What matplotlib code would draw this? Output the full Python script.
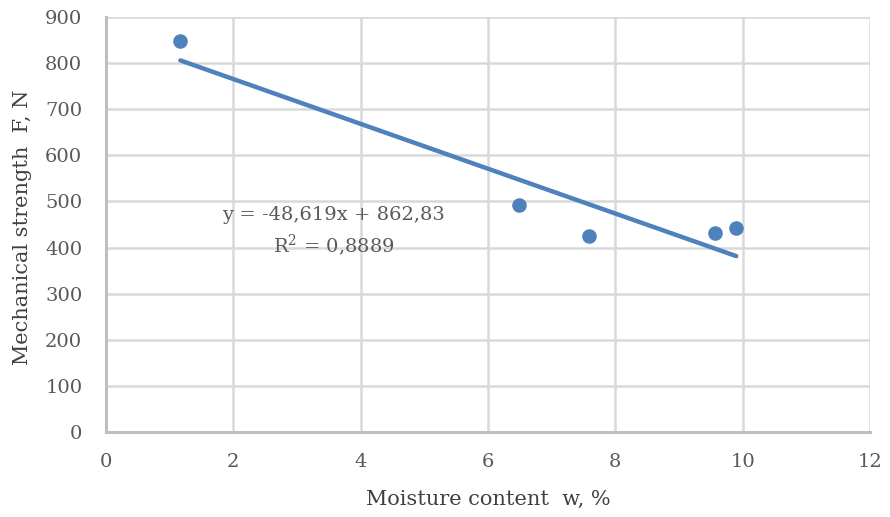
import numpy as np
import matplotlib
matplotlib.use('Agg')
import matplotlib.pyplot as plt

# measured points
moisture = [1.17, 6.48, 7.58, 9.57, 9.90]
strength = [847, 492, 425, 431, 443]

# trendline from the chart label
slope = -48.619
intercept = 862.83
eq_text = 'y = -48,619x + 862,83'
r2_text = 'R$^2$ = 0,8889'

x_ticks = [0, 2, 4, 6, 8, 10, 12]
y_ticks = [0, 100, 200, 300, 400, 500, 600, 700, 800, 900]

plt.rcParams['font.family'] = ['DejaVu Serif']
plt.rcParams['mathtext.fontset'] = 'dejavuserif'

fig = plt.figure(figsize=(8.9, 5.17), dpi=100)
ax = fig.add_axes([0.119, 0.1644, 0.8585, 0.8026])

blue = '#4f81bd'
ax.scatter(moisture, strength, s=110, color=blue, zorder=3, linewidths=0)

xs = np.array([min(moisture), max(moisture)])
ax.plot(xs, slope * xs + intercept, color=blue, lw=3.2, solid_capstyle='round', zorder=2)

ax.set_xlim(0, 12)
ax.set_ylim(0, 900)
ax.set_xticks(x_ticks)
ax.set_yticks(y_ticks)
ax.grid(True, color='#d9d9d9', lw=1.8)
ax.set_axisbelow(True)
for side in ['top', 'right']:
    ax.spines[side].set_visible(False)
for side in ['left', 'bottom']:
    ax.spines[side].set_color('#bfbfbf')
    ax.spines[side].set_linewidth(2.2)
ax.tick_params(length=0, labelsize=14, labelcolor='#595959')
ax.tick_params(axis='y', pad=17)
ax.tick_params(axis='x', pad=15)

ax.set_xlabel('Moisture content  w, %', fontsize=15, color='#404040', labelpad=14)
ax.set_ylabel('Mechanical strength  F, N', fontsize=15, color='#404040', va='center')
ax.yaxis.set_label_coords(-0.109, 0.494)

ax.text(3.58, 471, eq_text, ha='center', va='center', fontsize=14, color='#595959')
ax.text(3.58, 405, r2_text, ha='center', va='center', fontsize=14, color='#595959')

fig.savefig('out.png', dpi=100)
